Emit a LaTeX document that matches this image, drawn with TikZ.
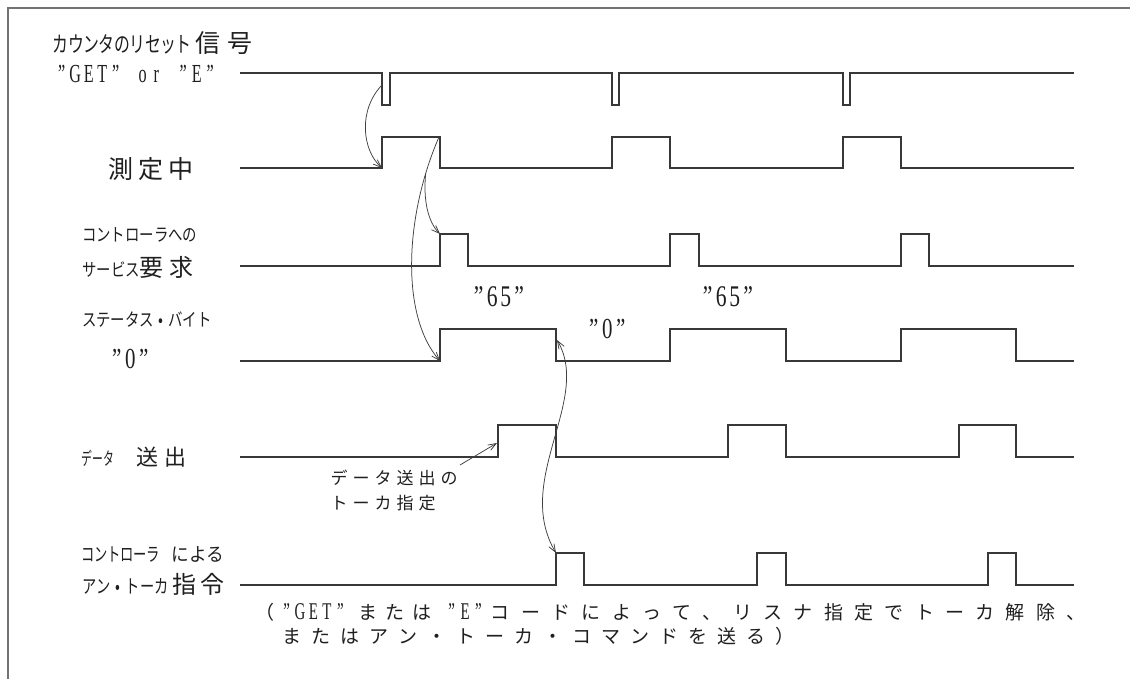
\documentclass[tikz,border=0pt]{standalone}
\usepackage{fontspec}
\usepackage{graphicx}
\usetikzlibrary{arrows.meta}
\newfontfamily\jp{Noto Sans CJK JP}
\newfontfamily\lat{Liberation Serif}
% fixed-pitch cells: \pstr{pitch}{horizontal scale}{characters}
\def\cw{14pt}\def\cs{1}
\newcommand\cell[1]{\makebox[\cw][c]{\scalebox{\cs}[1]{#1}}}
\def\cstr#1{\cstrA#1\relax}
\def\cstrA#1{\ifx\relax#1\else\cell{#1}\expandafter\cstrA\fi}
\newcommand\pstr[3]{{\def\cw{#1}\def\cs{#2}\cstr{#3}}}
\tikzset{
  sig/.style={line width=1.1pt, draw=black!78, line join=miter},
  cur/.style={line width=0.75pt, draw=black!75},
  arr/.style={-{Straight Barb[length=8pt,width=6pt]}},
  arrb/.style={{Straight Barb[length=8pt,width=6pt]}-{Straight Barb[length=8pt,width=6pt]}},
  lab/.style={anchor=west, inner sep=0pt, outer sep=0pt, text=black!88},
  frameline/.style={line width=1.2pt, draw=black!55},
}
\begin{document}
\begin{tikzpicture}[x=1pt,y=-1pt]
\useasboundingbox (0,0) rectangle (1130,679);
\fill[white] (0,0) rectangle (1130,679);
% frame
\draw[frameline] (8,679) -- (8,8) -- (1130,8);

% signals
\draw[sig] (240,73) -| (382,105) -| (390,73) -| (612,105) -| (619,73) -| (843,105) -| (850,73) -- (1074,73);
\draw[sig] (240,168) -| (382,137) -| (440,168) -| (612,137) -| (670,168) -| (843,137) -| (901,168) -- (1074,168);
\draw[sig] (240,266) -| (440,234) -| (468,266) -| (670,234) -| (699,266) -| (901,234) -| (929,266) -- (1074,266);
\draw[sig] (240,361) -| (440,329) -| (556,361) -| (670,329) -| (786,361) -| (901,329) -| (1016,361) -- (1074,361);
\draw[sig] (240,457) -| (498,425) -| (556,457) -| (728,425) -| (786,457) -| (959,425) -| (1016,457) -- (1074,457);
\draw[sig] (240,585) -| (556,553) -| (584,585) -| (757,553) -| (786,585) -| (988,553) -| (1016,585) -- (1074,585);

% labels
\node[lab] (lreset1) at (53,43) {\fontsize{22}{22}\jp\pstr{15.4pt}{0.72}{カウンタのリセット}\fontsize{25}{25}\selectfont\pstr{32pt}{1}{信号}};
\node[lab] (lreset2) at (55,74) {\fontsize{26}{26}\lat\pstr{13.5pt}{0.62}{”GET”~or~”E”}};
\node[lab] (lmeas) at (106,169) {\fontsize{25}{25}\jp\pstr{30pt}{1}{測定中}};
\node[lab] (lsrq1) at (82,235) {\fontsize{18}{18}\jp\pstr{14.4pt}{0.8}{コントローラへの}};
\node[lab] (lsrq2) at (82,267) {\fontsize{18}{18}\jp\pstr{14.5pt}{0.8}{サービス}\hspace{-4pt}\fontsize{24}{24}\selectfont\pstr{30pt}{1}{要求}};
\node[lab] (lstat1) at (82,320) {\fontsize{18}{18}\jp\pstr{14.4pt}{0.8}{ステータス•バイト}};
\node[lab] (lstat2) at (110,359) {\fontsize{29}{29}\lat\pstr{13.5pt}{0.72}{”0”}};
\node[lab] (ldata) at (82,457) {\fontsize{18}{18}\jp\pstr{10.7pt}{0.6}{データ}\hspace{19pt}\fontsize{22}{22}\selectfont\pstr{28pt}{1}{送出}};
\node[lab, align=left, font={\fontsize{17}{25}\jp}] (note) at (328,490) {\pstr{22pt}{1}{データ送出の}\\\pstr{22pt}{1}{トーカ指定}};
\node[lab] (lan1) at (82,554) {\fontsize{19}{19}\jp\pstr{13pt}{0.7}{コントローラ}\hspace{12pt}\pstr{17.3pt}{0.93}{による}};
\node[lab] (lan2) at (82,584) {\fontsize{19}{19}\jp\pstr{14.5pt}{0.75}{アン•トーカ}\hspace{1pt}\fontsize{24}{24}\selectfont\pstr{28.5pt}{1}{指令}};
\node[lab] (v65a) at (472,297) {\fontsize{30}{30}\lat\pstr{13.5pt}{0.72}{”65”}};
\node[lab] (v65b) at (701,297) {\fontsize{30}{30}\lat\pstr{13.5pt}{0.72}{”65”}};
\node[lab] (v0) at (587,329) {\fontsize{29}{29}\lat\pstr{13.5pt}{0.72}{”0”}};
\node[lab] (foot1) at (250,612) {\fontsize{19}{19}\jp\pstr{30pt}{1}{（}{\fontsize{24}{24}\lat\pstr{13.4pt}{0.62}{”GET”}}\hspace{7pt}\pstr{27pt}{1}{または}\hspace{10pt}{\fontsize{24}{24}\lat\pstr{13.4pt}{0.62}{”E”}}\pstr{30.3pt}{1}{コードによって、リスナ指定でトーカ解除、}};
\node[lab] (foot2) at (277.5,636) {\fontsize{19}{19}\jp\pstr{29pt}{1}{またはアン・トーカ・コマンドを送る）}};

% connector anchor points
\coordinate (r1) at (382,85);
\coordinate (m1r) at (382,168);
\coordinate (m1f) at (439,137);
\coordinate (sv1) at (440,234);
\coordinate (st1) at (440,361);
\coordinate (st1f) at (557,340);
\coordinate (an1) at (556,553);
\coordinate (dt1) at (497,443);
\coordinate (notetail) at (460,465);

% connectors
\draw[cur,arr] (r1) .. controls (358,110) and (362,150) .. (m1r);
\draw[cur,arr] (m1f) .. controls (405,215) and (400,315) .. (st1) coordinate[pos=0.15] (br);
\draw[cur,arr] (br) .. controls (423,200) and (428,222) .. (sv1);
\draw[cur,arrb] (st1f) .. controls (592,400) and (513,480) .. (an1);
\draw[cur,arr] (notetail) -- (dt1);
\end{tikzpicture}
\end{document}
